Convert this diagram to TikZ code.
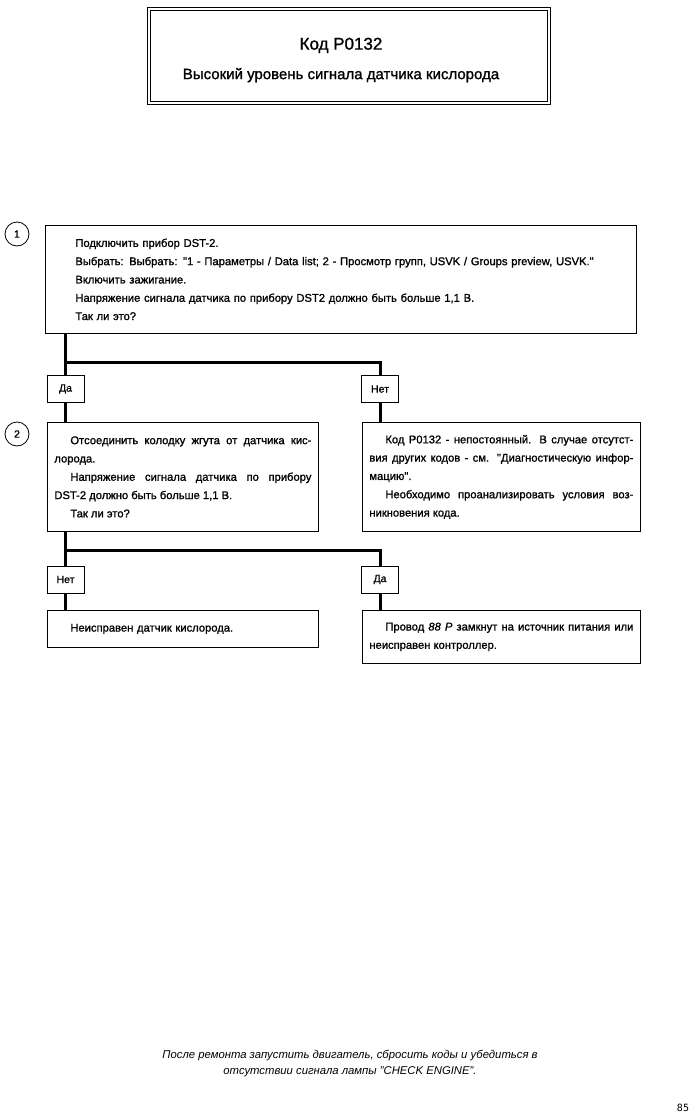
\documentclass[tikz,border=0pt]{standalone}
\usepackage{fontspec}
\setmainfont{Liberation Sans}
\newfontfamily\bodyfont{Liberation Sans}[FakeBold=1.2]
\newfontfamily\pagefont{DejaVu Sans Mono}
\usepackage{tikz}
\usetikzlibrary{positioning,calc}

\tikzset{
    stepbox/.style={rectangle,draw,line width=0.8pt,anchor=north west,inner sep=0pt,font=\bodyfont\fontsize{11.2}{18.3}\selectfont},
    answer/.style={rectangle,draw,line width=0.8pt,minimum width=37pt,minimum height=27pt,inner sep=0pt,font=\bodyfont\fontsize{10.5}{12}\selectfont},
    stepnum/.style={circle,draw,line width=0.8pt,minimum size=24pt,inner sep=0pt,font=\bodyfont\fontsize{10.5}{12}\selectfont},
    trunk/.style={line width=3pt}
}

\begin{document}
\begin{tikzpicture}[x=1pt,y=-1pt]
            \useasboundingbox (0,0) rectangle (699,1120);
            % heading
            \node[rectangle,draw,double,line width=0.7pt,double distance=2.5pt,minimum width=400pt,minimum height=94pt] (title) at (349,56) {};
            \node[align=center,font=\bodyfont] (heading) at (341,60) {
                {\fontsize{17}{19}\selectfont Код P0132}\\[14pt]
                {\fontsize{15}{17}\selectfont Высокий уровень сигнала датчика кислорода}
            };
            % step 1
            \node[stepnum] (num1) at (17,234) {1};
            \node[stepbox,minimum width=591pt,minimum height=108pt,text width=531pt,align=left,inner xsep=30pt] (ask1) at (45,225) {
                Подключить прибор DST-2.\\
                Выбрать: Выбрать: "1 - Параметры / Data list; 2 - Просмотр групп, USVK / Groups preview, USVK."\\
                Включить зажигание.\\
                Напряжение сигнала датчика по прибору DST2 должно быть больше 1,1 В.\\
                Так ли это?
            };
            \node[answer] (yes1) at (65.5,389) {Да};
            \node[answer] (no1) at (380,389) {Нет};
            % step 2
            \node[stepnum] (num2) at (17,434) {2};
            \node[stepbox,minimum width=271pt,minimum height=109pt,text width=257pt,align=justify,inner xsep=7pt] (ask2) at (47,422) {
                \hspace*{16pt}Отсоединить колодку жгута от датчика кис-\linebreak
                лорода.\par
                \hspace*{16pt}Напряжение сигнала датчика по прибору\linebreak
                DST-2 должно быть больше 1,1 В.\par
                \hspace*{16pt}Так ли это?
            };
            \node[stepbox,minimum width=278pt,minimum height=109pt,text width=264pt,align=justify,inner xsep=7pt] (info1) at (362,422) {
                \hspace*{16pt}Код P0132 - непостоянный. В случае отсутст-\linebreak
                вия других кодов - см. "Диагностическую инфор-\linebreak
                мацию".\par
                \hspace*{16pt}Необходимо проанализировать условия воз-\linebreak
                никновения кода.
            };
            \node[answer] (no2) at (65.5,579.5) {Нет};
            \node[answer] (yes2) at (380,579.5) {Да};
            \node[stepbox,minimum width=271pt,minimum height=37pt,text width=257pt,align=left,inner xsep=7pt] (fault1) at (47,610) {
                \hspace*{16pt}Неисправен датчик кислорода.
            };
            \node[stepbox,minimum width=278pt,minimum height=53pt,text width=264pt,align=justify,inner xsep=7pt] (fault2) at (362,610) {
                \hspace*{16pt}Провод \textit{88 P} замкнут на источник питания или\linebreak
                неисправен контроллер.
            };
            % connectors
            \coordinate (fork1) at (65.5,362);
            \coordinate (fork2) at (65.5,550);
            \draw[trunk] (yes1.north |- ask1.south) -- (yes1.north);
            \draw[trunk] (fork1) -| (no1.north);
            \draw[trunk] (yes1.south) -- (yes1.south |- ask2.north);
            \draw[trunk] (no1.south) -- (no1.south |- info1.north);
            \draw[trunk] (no2.north |- ask2.south) -- (no2.north);
            \draw[trunk] (fork2) -| (yes2.north);
            \draw[trunk] (no2.south) -- (no2.south |- fault1.north);
            \draw[trunk] (yes2.south) -- (yes2.south |- fault2.north);
            % footer
            \node[align=center,font=\fontsize{11.3}{16}\selectfont\itshape] (note) at (350,1064) {
                После ремонта запустить двигатель, сбросить коды и убедиться в\\
                отсутствии сигнала лампы "CHECK ENGINE".
            };
            \node[font=\pagefont\fontsize{10}{12}\selectfont] (page) at (683,1108) {85};
        \end{tikzpicture}
\end{document}
